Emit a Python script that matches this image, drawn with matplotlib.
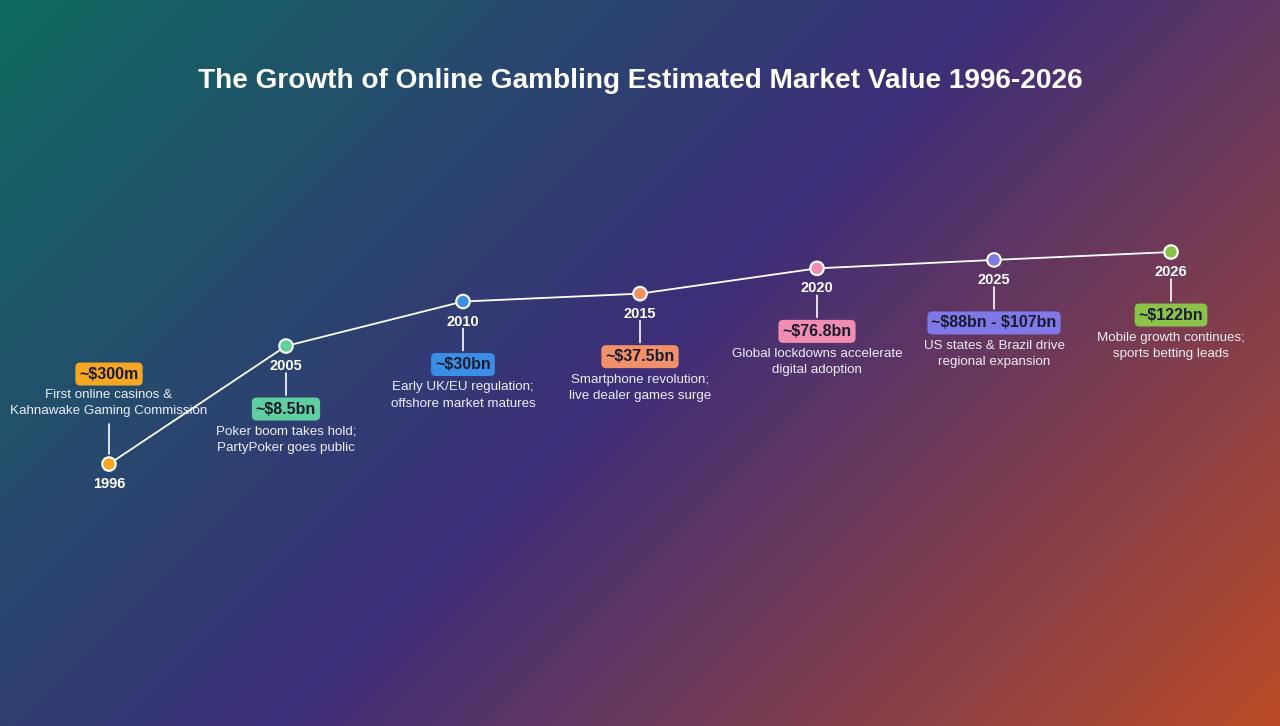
import numpy as np
import matplotlib
matplotlib.use("Agg")
import matplotlib.pyplot as plt
from matplotlib.colors import LinearSegmentedColormap

plt.rcParams['font.family'] = ['Liberation Sans', 'DejaVu Sans']

# data
years = ['1996', '2005', '2010', '2015', '2020', '2025', '2026']
values = [0.3, 8.5, 30, 37.5, 76.8, 97.5, 122]  # $bn, 2025 = midpoint of range
value_labels = ['~\\$300m', '~\\$8.5bn', '~\\$30bn', '~\\$37.5bn', '~\\$76.8bn',
                '~\\$88bn - \\$107bn', '~\\$122bn']
descriptions = ['First online casinos &\nKahnawake Gaming Commission',
                'Poker boom takes hold;\nPartyPoker goes public',
                'Early UK/EU regulation;\noffshore market matures',
                'Smartphone revolution;\nlive dealer games surge',
                'Global lockdowns accelerate\ndigital adoption',
                'US states & Brazil drive\nregional expansion',
                'Mobile growth continues;\nsports betting leads']
colors = ['#f5a623', '#5fcf9f', '#3b8ee6', '#f19069', '#f08db0', '#7f78e6', '#8bc34a']

W, H = 1280, 726
fig = plt.figure(figsize=(W / 100, H / 100), dpi=100)

# diagonal gradient background
bg = fig.add_axes([0, 0, 1, 1])
xx, yy = np.meshgrid(np.arange(W), np.arange(H))
t = (xx + yy) / (W + H)
cmap = LinearSegmentedColormap.from_list('bg', [(0, '#0e6a60'), (0.5, '#3d2e79'), (1, '#bb4b27')])
bg.imshow(t, cmap=cmap, aspect='auto', extent=[0, 1, 0, 1], origin='upper', vmin=0, vmax=1)
bg.set_axis_off()

ax = fig.add_axes([0, 0, 1, 1])
ax.patch.set_alpha(0)
ax.set_yscale('log')
x = np.arange(len(years))
ax.set_xlim(-109 / 177, (W - 109) / 177)
ax.set_ylim(10 ** -3.747, 10 ** 5.188)
ax.set_axis_off()

ax.plot(x, values, color='white', lw=1.3, zorder=3)
ax.scatter(x, values, s=95, c=colors, edgecolors='white', linewidths=1.5, zorder=4)

for i, (yr, v, lab, desc, col) in enumerate(zip(years, values, value_labels, descriptions, colors)):
    if i == 0:
        # first point sits low, so annotation goes above
        line_a, line_b, box_off, desc_off = 10, 40, 90, 61
        sign = 1
    else:
        line_a, line_b, box_off, desc_off = 27, 49, -63, -94
        sign = -1
    ax.annotate(yr, (i, v), xytext=(0, -20), textcoords='offset pixels',
                ha='center', va='center', color='white', fontsize=10.5, fontweight='bold', zorder=5)
    ax.annotate('', xy=(i, v), xytext=(0, sign * line_b), textcoords='offset pixels',
                arrowprops=dict(arrowstyle='-', color='white', lw=1.2,
                                shrinkA=0, shrinkB=line_a * 0.72), zorder=5)
    ax.annotate(lab, (i, v), xytext=(0, box_off), textcoords='offset pixels',
                ha='center', va='center', color='#1b1b2f', fontsize=11.5, fontweight='bold',
                bbox=dict(boxstyle='round,pad=0.25,rounding_size=0.3', fc=col, ec='none'), zorder=5)
    ax.annotate(desc, (i, v), xytext=(0, desc_off), textcoords='offset pixels',
                ha='center', va='center', color='#ececf4', fontsize=9.6, linespacing=1.45, zorder=5)

fig.text(0.5, 1 - 81 / H, 'The Growth of Online Gambling Estimated Market Value 1996-2026',
         ha='center', va='center', color='white', fontsize=20.2, fontweight='bold')

fig.savefig('out.png', dpi=100)
